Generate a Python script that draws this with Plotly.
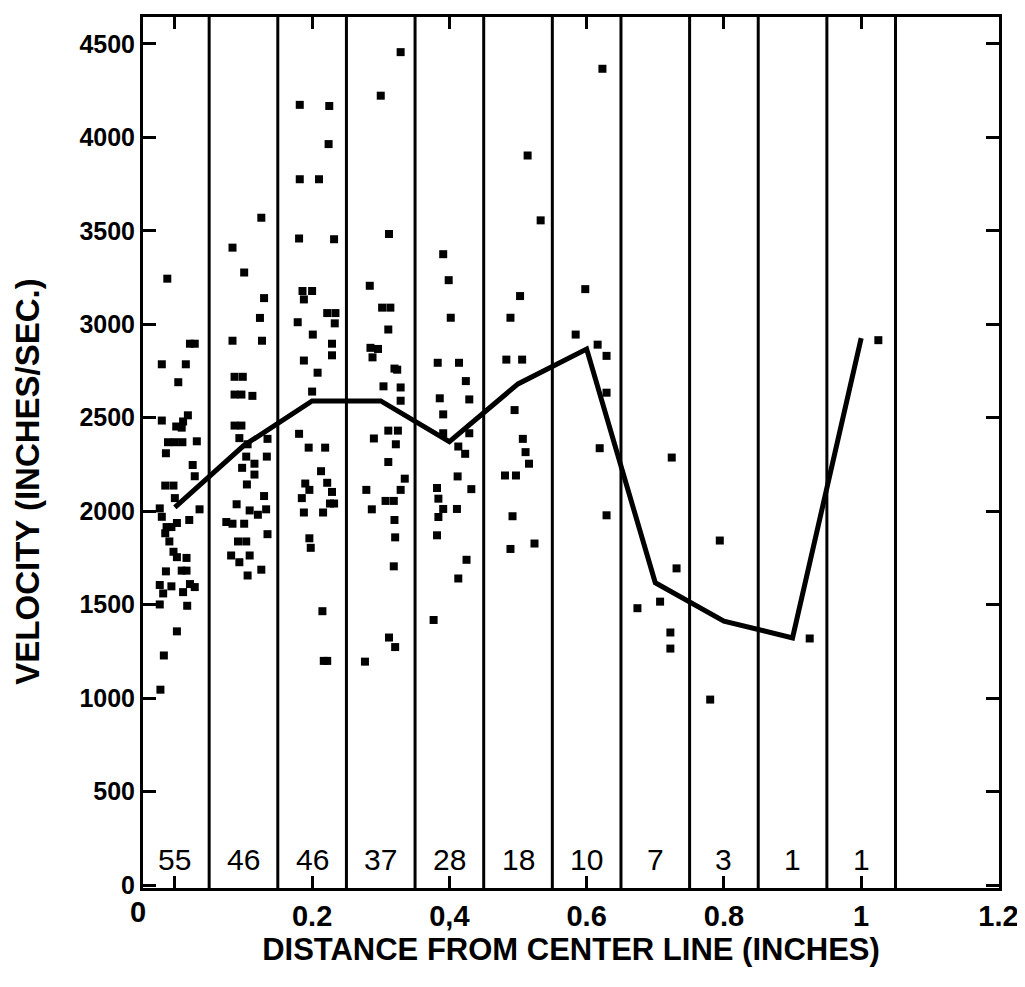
import plotly.graph_objects as go

# ---------------- data ----------------
bin_centers = [0.0, 0.1, 0.2, 0.3, 0.4, 0.5, 0.6, 0.7, 0.8, 0.9, 1.0]
bin_counts = [55, 46, 46, 37, 28, 18, 10, 7, 3, 1, 1]
mean_velocity = [2020, 2350, 2590, 2590, 2372, 2681, 2867, 1617, 1412, 1322, 2926]
bin_edges = [0.05, 0.15, 0.25, 0.35, 0.45, 0.55, 0.65, 0.75, 0.85, 0.95, 1.05]

point_x = [
    # bin 0.0
    -0.011, 0.022, 0.029, -0.019, 0.016, 0.005, 0.019, 0.012, -0.019, 0.002,
    0.010, -0.010, 0.000, 0.011, 0.032, -0.013, 0.026, 0.029, -0.014, -0.002,
    0.000, -0.022, 0.036, 0.021, -0.019, -0.012, -0.005, 0.003, -0.014, -0.008,
    -0.002, 0.003, 0.017, -0.013, 0.010, 0.017, -0.022, -0.005, 0.022, 0.029,
    -0.017, 0.012, -0.022, 0.018, 0.003, -0.016, -0.021,
    # bin 0.1
    0.126, 0.084, 0.101, 0.130, 0.124, 0.084, 0.127, 0.087, 0.099, 0.087,
    0.097, 0.113, 0.087, 0.097, 0.094, 0.135, 0.106, 0.104, 0.134, 0.116,
    0.098, 0.116, 0.105, 0.130, 0.090, 0.109, 0.121, 0.133, 0.075, 0.084,
    0.101, 0.135, 0.092, 0.104, 0.082, 0.094, 0.109, 0.126, 0.106,
    # bin 0.2
    0.182, 0.225, 0.224, 0.182, 0.210, 0.181, 0.232, 0.186, 0.200, 0.188,
    0.222, 0.234, 0.233, 0.179, 0.201, 0.229, 0.229, 0.188, 0.208, 0.200,
    0.181, 0.195, 0.219, 0.213, 0.190, 0.196, 0.222, 0.229, 0.185, 0.226,
    0.232, 0.188, 0.216, 0.196, 0.198, 0.215, 0.217, 0.222,
    # bin 0.3
    0.329, 0.300, 0.312, 0.284, 0.302, 0.314, 0.311, 0.285, 0.296, 0.288,
    0.320, 0.324, 0.304, 0.329, 0.329, 0.290, 0.311, 0.325, 0.322, 0.311,
    0.335, 0.279, 0.329, 0.307, 0.319, 0.287, 0.320, 0.321, 0.319, 0.312,
    0.321, 0.277,
    # bin 0.4
    0.391, 0.399, 0.402, 0.383, 0.414, 0.424, 0.386, 0.429, 0.391, 0.391,
    0.429, 0.413, 0.423, 0.412, 0.382, 0.432, 0.384, 0.391, 0.411, 0.384,
    0.382, 0.425, 0.413, 0.377,
    # bin 0.5
    0.514, 0.533, 0.503, 0.489, 0.483, 0.506, 0.495, 0.507, 0.511, 0.516,
    0.481, 0.497, 0.492, 0.524, 0.489,
    # bin 0.6
    0.598, 0.623, 0.584, 0.616, 0.629, 0.629, 0.619, 0.629,
    # bin 0.7
    0.724, 0.731, 0.674, 0.707, 0.722, 0.722,
    # bin 0.8
    0.794, 0.780,
    # bin 0.9
    0.925,
    # bin 1.0
    1.025,
]

point_v = [
    # bin 0.0
    3244, 2896, 2896, 2786, 2786, 2690, 2513, 2480, 2485, 2453,
    2447, 2369, 2369, 2369, 2374, 2310, 2247, 2187, 2137, 2137,
    2070, 2015, 2010, 1953, 1970, 1915, 1915, 1937, 1882, 1838,
    1783, 1754, 1750, 1678, 1682, 1682, 1605, 1598, 1610, 1594,
    1560, 1567, 1501, 1494, 1357, 1228, 1045,
    # bin 0.1
    3570, 3410, 3277, 3140, 3034, 2912, 2912, 2719, 2719, 2624,
    2624, 2617, 2458, 2458, 2391, 2387, 2358, 2292, 2292, 2254,
    2232, 2196, 2143, 2081, 2037, 2004, 1981, 2010, 1942, 1933,
    1933, 1877, 1838, 1838, 1763, 1727, 1763, 1687, 1656,
    # bin 0.2
    4174, 4168, 3964, 3776, 3776, 3459, 3455, 3178, 3178, 3133,
    3060, 3060, 3005, 3011, 2945, 2896, 2834, 2806, 2741, 2640,
    2414, 2340, 2340, 2214, 2148, 2114, 2152, 2103, 2070, 2041,
    2041, 1993, 1993, 1855, 1804, 1465, 1199, 1199,
    # bin 0.3
    4456, 4223, 3483, 3206, 3089, 3089, 2972, 2874, 2868, 2823,
    2763, 2757, 2668, 2662, 2591, 2389, 2431, 2431, 2358, 2263,
    2174, 2114, 2114, 2055, 2055, 2010, 1953, 1860, 1705, 1324,
    1273, 1195,
    # bin 0.4
    3375, 3236, 3035, 2794, 2794, 2696, 2604, 2598, 2518, 2417,
    2417, 2346, 2307, 2186, 2124, 2118, 2067, 2012, 2012, 1969,
    1871, 1740, 1640, 1418,
    # bin 0.5
    3903, 3556, 3151, 3035, 2811, 2811, 2541, 2387, 2316, 2254,
    2191, 2191, 1973, 1827, 1798,
    # bin 0.6
    3188, 4367, 2945, 2891, 2831, 2634, 2337, 1978,
    # bin 0.7
    2287, 1694, 1481, 1516, 1351, 1265,
    # bin 0.8
    1843, 992,
    # bin 0.9
    1319,
    # bin 1.0
    2915,
]

x_tick_vals = [0, 0.2, 0.4, 0.6, 0.8, 1.0, 1.2]
x_tick_text = ["", "0.2", "0,4", "0.6", "0.8", "1", "1.2"]
origin_label = "0"
y_tick_vals = [0, 500, 1000, 1500, 2000, 2500, 3000, 3500, 4000, 4500]
x_title = "DISTANCE FROM CENTER LINE (INCHES)"
y_title = "VELOCITY (INCHES/SEC.)"

FONT = "Liberation Sans, Arial, Helvetica, sans-serif"

fig = go.Figure()

fig.add_trace(go.Scatter(
    x=point_x, y=point_v, mode="markers",
    marker=dict(symbol="square", size=8, color="black", line=dict(width=0)),
    showlegend=False, hoverinfo="x+y",
))

fig.add_trace(go.Scatter(
    x=bin_centers, y=mean_velocity, mode="lines",
    line=dict(color="black", width=5),
    showlegend=False,
))

for e in bin_edges:
    fig.add_shape(type="line", xref="x", yref="paper", x0=e, x1=e, y0=0, y1=1,
                  line=dict(color="black", width=3), layer="above")

for c, n in zip(bin_centers, bin_counts):
    fig.add_annotation(x=c, y=135, xref="x", yref="y", text=str(n), showarrow=False,
                       font=dict(family=FONT, size=30, color="black"),
                       xanchor="center", yanchor="middle")

# "0" label sits at the origin corner in the original
fig.add_annotation(x=-0.006, y=0, xref="paper", yref="paper", yshift=-6,
                   text="<b>%s</b>" % origin_label,
                   showarrow=False, xanchor="center", yanchor="top",
                   font=dict(family=FONT, size=29, color="black"))

# y-axis title (placed slightly below the plot's middle, as in the original)
fig.add_annotation(x=-0.135, y=0.467, xref="paper", yref="paper",
                   text="<b>%s</b>" % y_title, textangle=-90,
                   showarrow=False, xanchor="center", yanchor="middle",
                   font=dict(family=FONT, size=33, color="black"))

fig.update_layout(
    width=1017, height=971,
    margin=dict(l=135, r=22, t=6, b=91),
    paper_bgcolor="white", plot_bgcolor="white",
    showlegend=False,
)

fig.update_xaxes(
    range=[-0.0464, 1.2008],
    tickvals=x_tick_vals, ticktext=["<b>%s</b>" % t if t else "" for t in x_tick_text],
    ticks="inside", ticklen=12, tickwidth=2.5, tickcolor="black",
    showline=True, linewidth=3, linecolor="black", mirror="ticks",
    showgrid=False, zeroline=False,
    tickfont=dict(family=FONT, size=29, color="black"),
    title=dict(text="<b>%s</b>" % x_title,
               font=dict(family=FONT, size=31, color="black"), standoff=8),
)
fig.update_yaxes(
    range=[-16, 4644],
    tickvals=y_tick_vals, ticktext=["<b>%d</b>" % v for v in y_tick_vals],
    ticks="inside", ticklen=13, tickwidth=2.5, tickcolor="black",
    showline=True, linewidth=3, linecolor="black", mirror="ticks",
    showgrid=False, zeroline=False,
    tickfont=dict(family=FONT, size=25, color="black"),
)

fig.write_html("out.html")
